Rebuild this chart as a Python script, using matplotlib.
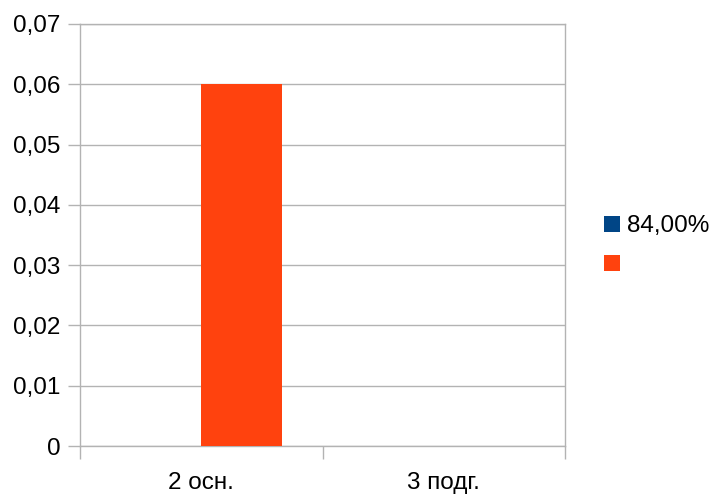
import matplotlib
matplotlib.use("Agg")
import matplotlib.pyplot as plt
from matplotlib.patches import Patch
import numpy as np

categories = ["2 осн.", "3 подг."]
series_names = ["84,00%", ""]
series_blue = [0.0, 0.0]
series_orange = [0.06, 0.0]
y_ticks = [0, 0.01, 0.02, 0.03, 0.04, 0.05, 0.06, 0.07]
y_tick_labels = ["0", "0,01", "0,02", "0,03", "0,04", "0,05", "0,06", "0,07"]
colors = ["#004586", "#ff420e"]

plt.rcParams['font.family'] = ['Liberation Sans', 'DejaVu Sans']
FS = 17.5

fig = plt.figure(figsize=(7.16, 4.94), dpi=100)
ax = fig.add_axes([80/716, 48/494, 485/716, 422/494])

x = np.arange(len(categories))
w = 1/3
ax.bar(x - w/2, series_blue, width=w, color=colors[0], label=series_names[0], zorder=3)
ax.bar(x + w/2, series_orange, width=w, color=colors[1], label=series_names[1], zorder=3)

ax.set_xlim(-0.5, len(categories) - 0.5)
ax.set_ylim(0, 0.07)
ax.set_yticks(y_ticks)
ax.set_yticklabels(y_tick_labels)
ax.yaxis.grid(True, color="#b3b3b3", linewidth=1, zorder=0)
ax.set_axisbelow(True)

# category labels centered, ticks at boundaries
ax.set_xticks(x)
ax.set_xticklabels(categories)
ax.tick_params(axis='x', which='major', length=0, pad=18.5, labelsize=FS)
ax.set_xticks(np.arange(len(categories) + 1) - 0.5, minor=True)
ax.tick_params(axis='x', which='minor', length=9, color="#b3b3b3", width=1)
ax.tick_params(axis='y', length=9, color="#b3b3b3", width=1, pad=5, labelsize=FS)

for s in ax.spines.values():
    s.set_color("#b3b3b3")
    s.set_linewidth(1)

handles = [Patch(facecolor=colors[i], edgecolor='none', label=series_names[i]) for i in range(2)]
fig.legend(handles=handles, loc='center left', bbox_to_anchor=(592/716, 1 - 246/494),
           frameon=False, fontsize=FS, handlelength=0.65, handleheight=0.65,
           handletextpad=0.3, labelspacing=0.7, borderpad=0)

fig.savefig("out.png", dpi=100)
